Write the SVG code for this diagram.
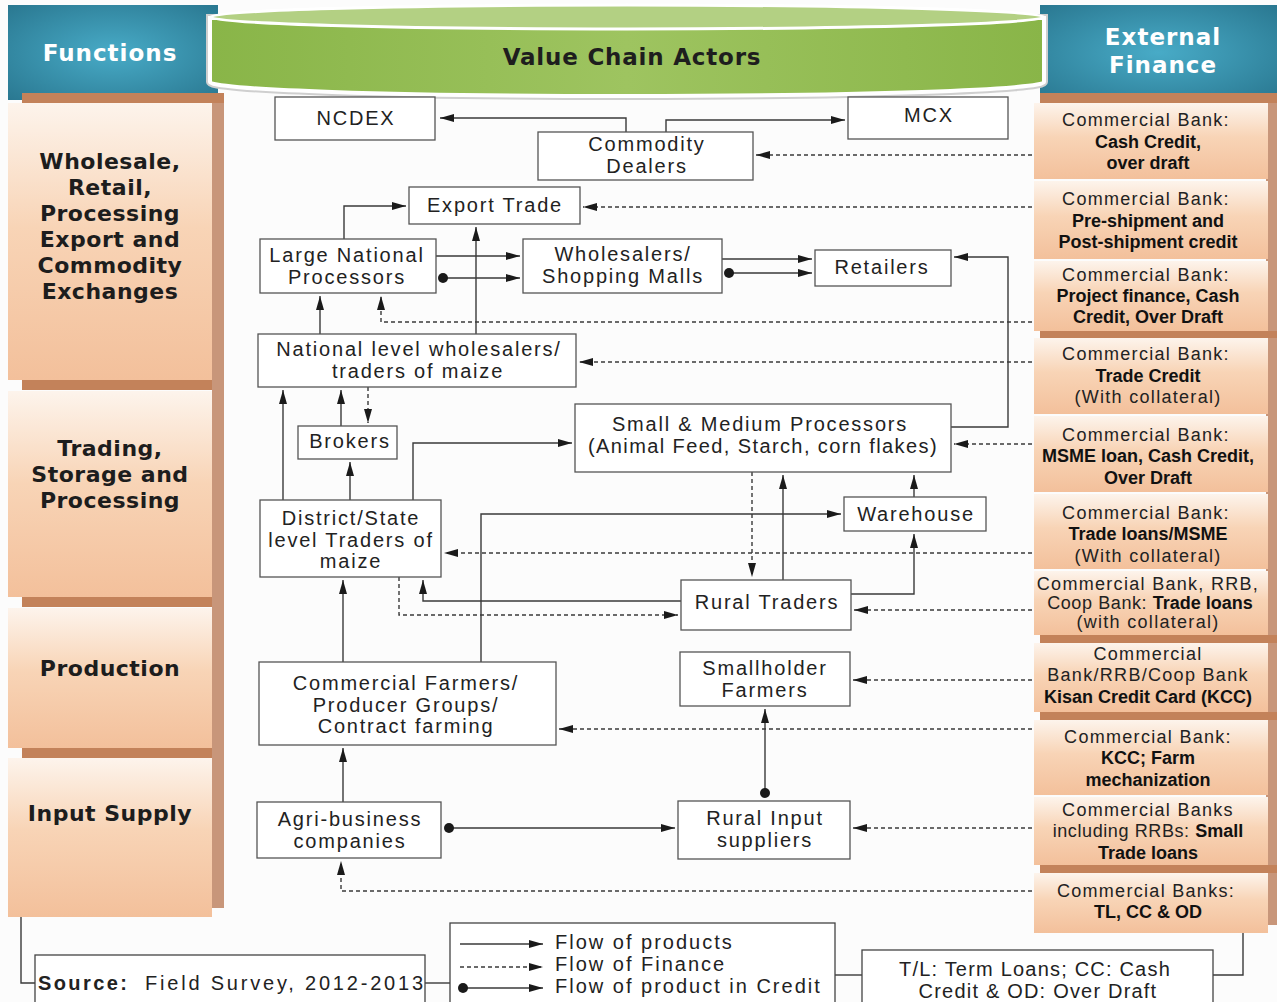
<svg xmlns="http://www.w3.org/2000/svg" width="1277" height="1002" viewBox="0 0 1277 1002">
<defs>
<style>
.box{fill:#fff;stroke:#555;stroke-width:1.3}
.t{font-family:"Liberation Sans",Arial,sans-serif;font-size:20px;letter-spacing:1.8px;fill:#222;text-anchor:middle}
.fin{font-family:"Liberation Sans",Arial,sans-serif;font-size:18px;letter-spacing:1.3px;fill:#222;text-anchor:middle}
.b{font-weight:bold;letter-spacing:0px;fill:#111}
.func{font-family:"DejaVu Sans",Verdana,sans-serif;font-weight:bold;font-size:22px;letter-spacing:0.5px;fill:#1d1d1d;text-anchor:middle}
.hdr{font-family:"DejaVu Sans",Verdana,sans-serif;font-weight:bold;font-size:23px;letter-spacing:1px;fill:#fff;text-anchor:middle}
.c{fill:none;stroke:#3a3a3a;stroke-width:1.4}
.d{stroke-dasharray:4 3}
.a{marker-end:url(#ah)}
.s{marker-start:url(#dot)}
.peach{fill:url(#pg)}
.band{fill:#c3825a}
.shadow{fill:#c8967a}
.frame{fill:#fff;stroke:#444;stroke-width:1.3}
</style>
<linearGradient id="pg" x1="0" y1="0" x2="0" y2="1">
<stop offset="0" stop-color="#fdf4ec"/>
<stop offset="0.45" stop-color="#f8d4b6"/>
<stop offset="1" stop-color="#f3c09b"/>
</linearGradient>
<radialGradient id="teal" cx="0.5" cy="0.5" r="0.7">
<stop offset="0" stop-color="#48abc7"/>
<stop offset="1" stop-color="#2a7891"/>
</radialGradient>
<linearGradient id="green" x1="0" y1="0" x2="1" y2="0">
<stop offset="0" stop-color="#89b548"/>
<stop offset="0.5" stop-color="#9ec460"/>
<stop offset="1" stop-color="#89b548"/>
</linearGradient>
<marker id="ah" viewBox="0 0 14 8" refX="14" refY="4" markerWidth="14" markerHeight="8" markerUnits="userSpaceOnUse" orient="auto"><path d="M0,0 L14,4 L0,8 z" fill="#1a1a1a"/></marker>
<marker id="dot" viewBox="0 0 10 10" refX="5" refY="5" markerWidth="10" markerHeight="10" markerUnits="userSpaceOnUse"><circle cx="5" cy="5" r="5" fill="#1a1a1a"/></marker>
</defs>
<rect width="1277" height="1002" fill="#fcfcfc"/>

<g id="header">
<rect x="8" y="5" width="210" height="95" fill="url(#teal)"/>
<rect x="1040" y="5" width="237" height="95" fill="url(#teal)"/>
<path d="M210,18 V82 A417,14 0 0 0 1044,82 V18 Z" fill="none" stroke="#cfcfcf" stroke-width="8"/>
<path d="M210,18 V82 A417,14 0 0 0 1044,82 V18 Z" fill="url(#green)" stroke="#fff" stroke-width="4"/>
<ellipse cx="627" cy="17" rx="417" ry="12" fill="#b3d083" stroke="#fff" stroke-width="3"/>
<text class="hdr" x="110" y="61">Functions</text>
<text class="hdr" x="632" y="65" style="fill:#1e1e1e;letter-spacing:0.8px">Value Chain Actors</text>
<text class="hdr" x="1163" y="45">External</text>
<text class="hdr" x="1163" y="73">Finance</text>
</g>

<g id="functions">
<rect class="shadow" x="212" y="100" width="12" height="808"/>
<rect class="band" x="22" y="93" width="202" height="10"/>
<rect class="peach" x="8" y="103" width="204" height="277"/>
<rect class="band" x="22" y="380" width="190" height="10"/>
<rect class="peach" x="8" y="391" width="204" height="206"/>
<rect class="band" x="22" y="597" width="190" height="10"/>
<rect class="peach" x="8" y="608" width="204" height="140"/>
<rect class="band" x="22" y="748" width="190" height="10"/>
<rect class="peach" x="8" y="758" width="204" height="159"/>
<text class="func" x="110" y="169">Wholesale,</text>
<text class="func" x="110" y="195">Retail,</text>
<text class="func" x="110" y="221">Processing</text>
<text class="func" x="110" y="247">Export and</text>
<text class="func" x="110" y="273">Commodity</text>
<text class="func" x="110" y="299">Exchanges</text>
<text class="func" x="110" y="456">Trading,</text>
<text class="func" x="110" y="482">Storage and</text>
<text class="func" x="110" y="508">Processing</text>
<text class="func" x="110" y="676">Production</text>
<text class="func" x="110" y="821">Input Supply</text>
</g>

<g id="finance">
<rect class="shadow" x="1266" y="100" width="11" height="825"/>
<rect class="band" x="1040" y="93" width="237" height="10"/>
<rect class="peach" x="1034" y="103" width="234" height="76"/>
<rect class="peach" x="1034" y="181" width="234" height="78"/>
<rect class="peach" x="1034" y="261" width="234" height="70"/>
<rect class="band" x="1040" y="331" width="237" height="7"/>
<rect class="peach" x="1034" y="338" width="234" height="76"/>
<rect class="peach" x="1034" y="416" width="234" height="76"/>
<rect class="peach" x="1034" y="494" width="234" height="75"/>
<rect class="peach" x="1034" y="571" width="234" height="64"/>
<rect class="band" x="1040" y="635" width="237" height="8"/>
<rect class="peach" x="1034" y="643" width="234" height="69"/>
<rect class="band" x="1040" y="712" width="237" height="8"/>
<rect class="peach" x="1034" y="720" width="234" height="75"/>
<rect class="peach" x="1034" y="797" width="234" height="68"/>
<rect class="band" x="1040" y="865" width="237" height="8"/>
<rect class="peach" x="1034" y="873" width="234" height="60"/>
<text class="fin" x="1146" y="126">Commercial Bank:</text>
<text class="fin b" x="1148" y="148">Cash Credit,</text>
<text class="fin b" x="1148" y="169">over draft</text>
<text class="fin" x="1146" y="205">Commercial Bank:</text>
<text class="fin b" x="1148" y="227">Pre-shipment and</text>
<text class="fin b" x="1148" y="248">Post-shipment credit</text>
<text class="fin" x="1146" y="281">Commercial Bank:</text>
<text class="fin b" x="1148" y="302">Project finance, Cash</text>
<text class="fin b" x="1148" y="323">Credit, Over Draft</text>
<text class="fin" x="1146" y="360">Commercial Bank:</text>
<text class="fin b" x="1148" y="382">Trade Credit</text>
<text class="fin" x="1148" y="403">(With collateral)</text>
<text class="fin" x="1146" y="441">Commercial Bank:</text>
<text class="fin b" x="1148" y="462">MSME loan, Cash Credit,</text>
<text class="fin b" x="1148" y="484">Over Draft</text>
<text class="fin" x="1146" y="519">Commercial Bank:</text>
<text class="fin b" x="1148" y="540">Trade loans/MSME</text>
<text class="fin" x="1148" y="562">(With collateral)</text>
<text class="fin" x="1148" y="590">Commercial Bank, RRB,</text>
<text class="fin" x="1150" y="609" style="letter-spacing:0.6px">Coop Bank: <tspan class="b">Trade loans</tspan></text>
<text class="fin" x="1148" y="628">(with collateral)</text>
<text class="fin" x="1148" y="660">Commercial</text>
<text class="fin" x="1148" y="681">Bank/RRB/Coop Bank</text>
<text class="fin b" x="1148" y="703">Kisan Credit Card (KCC)</text>
<text class="fin" x="1148" y="743">Commercial Bank:</text>
<text class="fin b" x="1148" y="764">KCC; Farm</text>
<text class="fin b" x="1148" y="786">mechanization</text>
<text class="fin" x="1148" y="816">Commercial Banks</text>
<text class="fin" x="1148" y="837" style="letter-spacing:0.6px">including RRBs: <tspan class="b">Small</tspan></text>
<text class="fin b" x="1148" y="859">Trade loans</text>
<text class="fin" x="1146" y="897">Commercial Banks:</text>
<text class="fin b" x="1148" y="918">TL, CC &amp; OD</text>
</g>

<g id="connectors">
<path class="c a" d="M626,132 V118 H440"/>
<path class="c a" d="M666,132 V120 H845"/>
<path class="c d a" d="M1032,155 H756"/>
<path class="c a" d="M344,239 V206 H406"/>
<path class="c d a" d="M1032,207 H583"/>
<path class="c a" d="M476,334 V227"/>
<path class="c a" d="M436,256 H520"/>
<path class="c a s" d="M443,278 H520"/>
<path class="c a" d="M722,259 H812"/>
<path class="c a s" d="M729,273 H812"/>
<path class="c a" d="M951,427 H1008 V257 H954"/>
<path class="c a" d="M320,334 V296"/>
<path class="c d a" d="M1032,322 H381 V296"/>
<path class="c d a" d="M1032,362 H579"/>
<path class="c a" d="M283,500 V390"/>
<path class="c a" d="M341,426 V390"/>
<path class="c d a" d="M368,387 V423"/>
<path class="c a" d="M350,500 V462"/>
<path class="c a" d="M413,500 V443 H572"/>
<path class="c d a" d="M1032,444 H954"/>
<path class="c d a" d="M752,472 V577"/>
<path class="c a" d="M783,580 V475"/>
<path class="c a" d="M851,594 H914 V534"/>
<path class="c a" d="M914,497 V475"/>
<path class="c a" d="M481,662 V514 H841"/>
<path class="c d a" d="M1032,553 H444"/>
<path class="c a" d="M681,601 H423 V580"/>
<path class="c d a" d="M399,577 V615 H678"/>
<path class="c d a" d="M1032,610 H854"/>
<path class="c a" d="M343,662 V580"/>
<path class="c d a" d="M1032,680 H853"/>
<path class="c d a" d="M1032,729 H559"/>
<path class="c a s" d="M765,793 V709"/>
<path class="c a" d="M343,802 V748"/>
<path class="c a s" d="M449,828 H675"/>
<path class="c d a" d="M1032,828 H853"/>
<path class="c d a" d="M1032,891 H341 V861"/>
<path class="c" d="M21,917 V983 H35"/>
<path class="c" d="M425,983 H450"/>
<path class="c" d="M835,975 H862"/>
<path class="c" d="M1213,975 H1243 V933"/>
</g>

<g id="ncdex"><rect class="box" x="275" y="97" width="160" height="43"/><text class="t" x="356" y="125">NCDEX</text></g>
<g id="mcx"><rect class="box" x="848" y="97" width="160" height="42"/><text class="t" x="929" y="122">MCX</text></g>
<g id="commodity-dealers"><rect class="box" x="538" y="132" width="215" height="48"/><text class="t" x="647" y="151">Commodity</text><text class="t" x="647" y="173">Dealers</text></g>
<g id="export-trade"><rect class="box" x="409" y="187" width="171" height="37"/><text class="t" x="495" y="212">Export Trade</text></g>
<g id="large-national-processors"><rect class="box" x="260" y="239" width="176" height="54"/><text class="t" x="347" y="262">Large National</text><text class="t" x="347" y="284">Processors</text></g>
<g id="wholesalers"><rect class="box" x="523" y="239" width="199" height="54"/><text class="t" x="623" y="261">Wholesalers/</text><text class="t" x="623" y="283">Shopping Malls</text></g>
<g id="retailers"><rect class="box" x="815" y="250" width="136" height="36"/><text class="t" x="882" y="274">Retailers</text></g>
<g id="national-wholesalers"><rect class="box" x="258" y="334" width="318" height="53"/><text class="t" x="419" y="356">National level wholesalers/</text><text class="t" x="418" y="378">traders of maize</text></g>
<g id="brokers"><rect class="box" x="298" y="426" width="99" height="33"/><text class="t" x="350" y="448">Brokers</text></g>
<g id="sm-processors"><rect class="box" x="575" y="404" width="376" height="68"/><text class="t" x="760" y="431">Small &amp; Medium Processors</text><text class="t" x="763" y="453" style="letter-spacing:1.4px">(Animal Feed, Starch, corn flakes)</text></g>
<g id="warehouse"><rect class="box" x="844" y="497" width="142" height="34"/><text class="t" x="916" y="521">Warehouse</text></g>
<g id="district-traders"><rect class="box" x="260" y="500" width="181" height="77"/><text class="t" x="351" y="525">District/State</text><text class="t" x="351" y="547">level Traders of</text><text class="t" x="351" y="568">maize</text></g>
<g id="rural-traders"><rect class="box" x="681" y="580" width="170" height="50"/><text class="t" x="767" y="609">Rural Traders</text></g>
<g id="smallholder"><rect class="box" x="680" y="652" width="170" height="54"/><text class="t" x="765" y="675">Smallholder</text><text class="t" x="765" y="697">Farmers</text></g>
<g id="commercial-farmers"><rect class="box" x="259" y="662" width="297" height="83"/><text class="t" x="406" y="690">Commercial Farmers/</text><text class="t" x="406" y="712">Producer Groups/</text><text class="t" x="406" y="733">Contract farming</text></g>
<g id="agri-business"><rect class="box" x="257" y="802" width="184" height="56"/><text class="t" x="350" y="826">Agri-business</text><text class="t" x="350" y="848">companies</text></g>
<g id="rural-input"><rect class="box" x="678" y="801" width="172" height="58"/><text class="t" x="765" y="825">Rural Input</text><text class="t" x="765" y="847">suppliers</text></g>

<g id="source"><rect class="frame" x="35" y="955" width="390" height="55"/><text class="t" x="38" y="990" style="text-anchor:start;letter-spacing:2.4px;font-weight:bold">Source:</text><text class="t" x="145" y="990" style="text-anchor:start;letter-spacing:2.8px">Field Survey, 2012-2013</text></g>
<g id="legend"><rect class="frame" x="450" y="923" width="385" height="90"/>
<path class="c a" d="M460,944 H543"/>
<path class="c d a" d="M460,967 H543"/>
<path class="c a s" d="M463,988 H543"/>
<text class="t" x="555" y="949" style="text-anchor:start;letter-spacing:2px">Flow of products</text>
<text class="t" x="555" y="971" style="text-anchor:start;letter-spacing:2px">Flow of Finance</text>
<text class="t" x="555" y="993" style="text-anchor:start;letter-spacing:2px">Flow of product in Credit</text>
</g>
<g id="abbreviations"><rect class="frame" x="862" y="950" width="351" height="60"/><text class="t" x="1035" y="976" style="letter-spacing:1.2px">T/L: Term Loans; CC: Cash</text><text class="t" x="1038" y="998" style="letter-spacing:1.2px">Credit &amp; OD: Over Draft</text></g>
</svg>
